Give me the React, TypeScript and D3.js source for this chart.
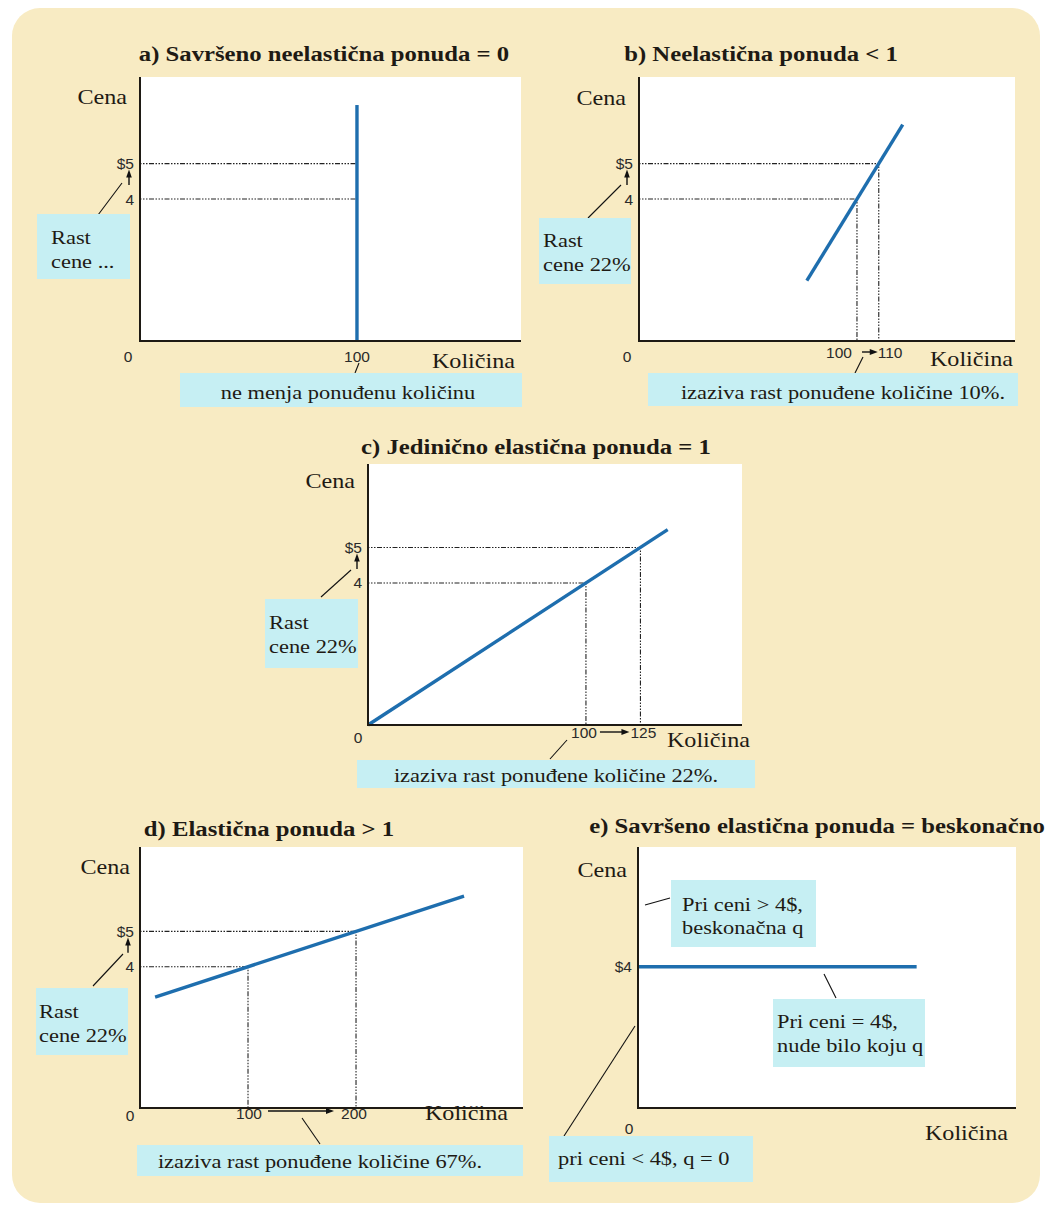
import React from "react";
import * as d3 from "d3";

// ---------- data ----------
const titles = [
  "a) Savršeno neelastična ponuda = 0",
  "b) Neelastična ponuda < 1",
  "c) Jedinično elastična ponuda = 1",
  "d) Elastična ponuda > 1",
  "e) Savršeno elastična ponuda = beskonačno",
];
const yAxisLabel = "Cena";
const xAxisLabel = "Količina";

// supply curves [quantity, price]
const supplyA: [number, number][] = [[100, 0], [100, 6.65]];
const supplyB: [number, number][] = [[77, 1.7], [121, 6.1]];
const supplyC: [number, number][] = [[0, 0], [137.5, 5.5]];
const supplyD: [number, number][] = [[14, 3.14], [300, 6.0]];
const supplyE: [number, number][] = [[0, 4], [129, 4]];

// dotted guide points [quantity, price]
const guidesA: [number, number][] = [[100, 5], [100, 4]];
const guidesB: [number, number][] = [[100, 4], [110, 5]];
const guidesC: [number, number][] = [[100, 4], [125, 5]];
const guidesD: [number, number][] = [[100, 4], [200, 5]];
const guidesE: [number, number][] = [];

// price ticks
const priceLevels = [5, 4];
const priceTickLabels = ["$5", "4"];
const priceLevelsE = [4];
const priceTickLabelsE = ["$4"];

// quantity ticks
const qtyLevelsA = [100];
const qtyLabelsA = ["100"];
const qtyLevelsB = [100, 110];
const qtyLabelsB = ["100", "110"];
const qtyLevelsC = [100, 125];
const qtyLabelsC = ["100", "125"];
const qtyLevelsD = [100, 200];
const qtyLabelsD = ["100", "200"];

// domains
const qDomainMax = [175.6, 172.5, 171.6, 354.6, 175];
const pDomainMax = [7.44, 7.44, 7.35, 7.39, 7.39];

// annotation texts
const noteRise = ["Rast", "cene ..."];
const noteRise22 = ["Rast", "cene 22%"];
const noteA = "ne menja ponuđenu količinu";
const noteB = "izaziva rast ponuđene količine 10%.";
const noteC = "izaziva rast ponuđene količine 22%.";
const noteD = "izaziva rast ponuđene količine 67%.";
const noteE1 = ["Pri ceni > 4$,", "beskonačna q"];
const noteE2 = ["Pri ceni = 4$,", "nude bilo koju q"];
const noteE3 = "pri ceni < 4$, q = 0";

// ---------- style ----------
const CREAM = "#f8ebc3";
const CYAN = "#c6eff3";
const BLUE = "#1e6eae";
const INK = "#1e1a14";
const SERIF = "'Liberation Serif', 'Times New Roman', serif";
const SANS = "'Liberation Sans', Arial, sans-serif";
const DASH = "1.5 1.5 1.5 1.5 1.5 1.5 5 1.5";
const SX = 1.15;

type TP = {
  x: number; y: number; anchor?: "start" | "middle" | "end"; size?: number;
  bold?: boolean; fill?: string; family?: string; sx?: number; children: React.ReactNode;
};
function T({ x, y, anchor = "start", size = 19.5, bold = false, fill = INK, family = SERIF, sx = SX, children }: TP) {
  return (
    <text
      transform={`translate(${x},${y}) scale(${sx},1)`}
      textAnchor={anchor}
      fontFamily={family}
      fontSize={size}
      fontWeight={bold ? "bold" : "normal"}
      fill={fill}
    >
      {children}
    </text>
  );
}

function Tick({ x, y, anchor = "middle", children }: { x: number; y: number; anchor?: "start" | "middle" | "end"; children: React.ReactNode }) {
  return (
    <text x={x} y={y} textAnchor={anchor} dominantBaseline="central" fontFamily={SANS} fontSize={15.5} fill="#2a2a2a">
      {children}
    </text>
  );
}

function Box({ x, y, w, h }: { x: number; y: number; w: number; h: number }) {
  return <rect x={x} y={y} width={w} height={h} fill={CYAN} />;
}

function Leader({ x1, y1, x2, y2 }: { x1: number; y1: number; x2: number; y2: number }) {
  return <line x1={x1} y1={y1} x2={x2} y2={y2} stroke="#111" strokeWidth={1.1} />;
}

function HArrow({ x1, x2, y }: { x1: number; x2: number; y: number }) {
  return (
    <g>
      <line x1={x1} y1={y} x2={x2 - 6} y2={y} stroke="#111" strokeWidth={1.4} />
      <path d={`M${x2},${y} L${x2 - 8},${y - 3} L${x2 - 8},${y + 3} Z`} fill="#111" />
    </g>
  );
}

function VArrow({ x, y1, y2 }: { x: number; y1: number; y2: number }) {
  // y1 bottom, y2 top (head)
  return (
    <g>
      <line x1={x} y1={y1} x2={x} y2={y2 + 5} stroke="#111" strokeWidth={1.4} />
      <path d={`M${x},${y2} L${x - 2.8},${y2 + 8} L${x + 2.8},${y2 + 8} Z`} fill="#111" />
    </g>
  );
}

type PanelCfg = {
  idx: number;
  x0: number; x1: number; y0: number; y1: number;
  supply: [number, number][];
  guides: [number, number][];
  priceLevels: number[]; priceLabels: string[];
  title: { x: number; y: number };
  cena: { x: number; y: number };
  kol: { x: number; y: number };
  zero: { dx: number; dy: number };
  priceArrowX?: number;
  children?: (x: d3.ScaleLinear<number, number>, y: d3.ScaleLinear<number, number>) => React.ReactNode;
};

function Panel(cfg: PanelCfg) {
  const x = d3.scaleLinear().domain([0, qDomainMax[cfg.idx]]).range([cfg.x0, cfg.x1]);
  const y = d3.scaleLinear().domain([0, pDomainMax[cfg.idx]]).range([cfg.y0, cfg.y1]);
  const line = d3.line<[number, number]>().x((d) => x(d[0])).y((d) => y(d[1]));
  return (
    <g>
      <rect x={cfg.x0} y={cfg.y1} width={cfg.x1 - cfg.x0} height={cfg.y0 - cfg.y1} fill="#fff" />
      <T x={(cfg.title.x)} y={cfg.title.y} anchor="middle" size={21.5} bold>
        {titles[cfg.idx]}
      </T>
      {cfg.guides.map(([q, p], i) => (
        <g key={i}>
          <line x1={x(0)} y1={y(p)} x2={x(q)} y2={y(p)} stroke="#222" strokeWidth={1.1} strokeDasharray={DASH} />
          <line x1={x(q)} y1={y(p)} x2={x(q)} y2={y(0)} stroke="#222" strokeWidth={1.1} strokeDasharray={DASH} />
        </g>
      ))}
      <path d={line(cfg.supply) || ""} stroke={BLUE} strokeWidth={3.4} fill="none" />
      <line x1={cfg.x0} y1={cfg.y1} x2={cfg.x0} y2={cfg.y0 + 1} stroke={INK} strokeWidth={2} />
      <line x1={cfg.x0 - 1} y1={cfg.y0} x2={cfg.x1} y2={cfg.y0} stroke={INK} strokeWidth={2} />
      {cfg.priceLevels.map((p, i) => (
        <Tick key={i} x={cfg.x0 - 6} y={y(p)} anchor="end">
          {cfg.priceLabels[i]}
        </Tick>
      ))}
      {cfg.priceArrowX !== undefined && (
        <VArrow x={cfg.priceArrowX} y1={y(4) - 14} y2={y(5) + 6} />
      )}
      <Tick x={cfg.x0 + cfg.zero.dx} y={cfg.y0 + cfg.zero.dy}>0</Tick>
      <T x={cfg.cena.x} y={cfg.cena.y} anchor="end" size={21}>{yAxisLabel}</T>
      <T x={cfg.kol.x} y={cfg.kol.y} anchor="end" size={21}>{xAxisLabel}</T>
      {cfg.children && cfg.children(x, y)}
    </g>
  );
}

function SideNote({ x, y, w, h, lines, tx, b1, b2 }: { x: number; y: number; w: number; h: number; lines: string[]; tx: number; b1: number; b2: number }) {
  return (
    <g>
      <Box x={x} y={y} w={w} h={h} />
      <T x={tx} y={b1}>{lines[0]}</T>
      <T x={tx} y={b2}>{lines[1]}</T>
    </g>
  );
}

export default function App() {
  return (
    <svg width={1057} height={1205} style={{ position: "absolute", left: 0, top: 0, background: "#fff" }}>
      <rect x={12} y={8} width={1028} height={1195} rx={28} ry={28} fill={CREAM} />

      {/* Panel a */}
      <Panel
        idx={0} x0={140} x1={521} y0={341} y1={77}
        supply={supplyA} guides={guidesA}
        priceLevels={priceLevels} priceLabels={priceTickLabels}
        title={{ x: 324, y: 61 }} cena={{ x: 127, y: 104 }} kol={{ x: 515, y: 368 }}
        zero={{ dx: -12, dy: 15 }} priceArrowX={129}
      >
        {(x, y) => (
          <g>
            {qtyLevelsA.map((q, i) => (
              <Tick key={i} x={x(q)} y={y(0) + 15}>{qtyLabelsA[i]}</Tick>
            ))}
            <Leader x1={98} y1={215} x2={122} y2={183} />
            <SideNote x={37} y={214} w={93} h={65} lines={noteRise} tx={51} b1={244} b2={268} />
            <Leader x1={359} y1={363} x2={355} y2={373} />
            <Box x={180} y={373} w={342} h={34} />
            <T x={348} y={399} anchor="middle">{noteA}</T>
          </g>
        )}
      </Panel>

      {/* Panel b */}
      <Panel
        idx={1} x0={639} x1={1015} y0={341} y1={77}
        supply={supplyB} guides={guidesB}
        priceLevels={priceLevels} priceLabels={priceTickLabels}
        title={{ x: 761, y: 61 }} cena={{ x: 626, y: 105 }} kol={{ x: 1013, y: 366 }}
        zero={{ dx: -12, dy: 15 }} priceArrowX={627}
      >
        {(x, y) => (
          <g>
            <Tick x={x(qtyLevelsB[0]) - 5} y={y(0) + 11} anchor="end">{qtyLabelsB[0]}</Tick>
            <Tick x={x(qtyLevelsB[1]) - 1} y={y(0) + 11} anchor="start">{qtyLabelsB[1]}</Tick>
            <HArrow x1={x(qtyLevelsB[0]) + 5} x2={x(qtyLevelsB[1]) - 1} y={y(0) + 11} />
            <Leader x1={588} y1={218} x2={621} y2={185} />
            <SideNote x={539} y={218} w={92} h={66} lines={noteRise22} tx={543} b1={247} b2={271} />
            <Leader x1={863} y1={357} x2={855} y2={373} />
            <Box x={648} y={373} w={370} h={33} />
            <T x={843} y={399} anchor="middle">{noteB}</T>
          </g>
        )}
      </Panel>

      {/* Panel c */}
      <Panel
        idx={2} x0={368} x1={742} y0={725} y1={464}
        supply={supplyC} guides={guidesC}
        priceLevels={priceLevels} priceLabels={priceTickLabels}
        title={{ x: 536, y: 454 }} cena={{ x: 355, y: 488 }} kol={{ x: 750, y: 747 }}
        zero={{ dx: -10, dy: 12 }} priceArrowX={357}
      >
        {(x, y) => (
          <g>
            <Tick x={x(qtyLevelsC[0]) + 11} y={y(0) + 7} anchor="end">{qtyLabelsC[0]}</Tick>
            <Tick x={x(qtyLevelsC[1]) - 10} y={y(0) + 7} anchor="start">{qtyLabelsC[1]}</Tick>
            <HArrow x1={x(qtyLevelsC[0]) + 14} x2={x(qtyLevelsC[1]) - 11} y={y(0) + 7} />
            <Leader x1={321} y1={597} x2={351} y2={570} />
            <SideNote x={265} y={599} w={93} h={69} lines={noteRise22} tx={269} b1={629} b2={653} />
            <Leader x1={567} y1={740} x2={550} y2={759} />
            <Box x={357} y={760} w={398} h={28} />
            <T x={556} y={782} anchor="middle">{noteC}</T>
          </g>
        )}
      </Panel>

      {/* Panel d */}
      <Panel
        idx={3} x0={140} x1={523} y0={1108} y1={847}
        supply={supplyD} guides={guidesD}
        priceLevels={priceLevels} priceLabels={priceTickLabels}
        title={{ x: 269, y: 836 }} cena={{ x: 130, y: 874 }} kol={{ x: 508, y: 1120 }}
        zero={{ dx: -10, dy: 7 }} priceArrowX={128}
      >
        {(x, y) => (
          <g>
            <Tick x={x(qtyLevelsD[0]) + 1} y={y(0) + 5}>{qtyLabelsD[0]}</Tick>
            <Tick x={x(qtyLevelsD[1]) - 2} y={y(0) + 5}>{qtyLabelsD[1]}</Tick>
            <HArrow x1={x(qtyLevelsD[0]) + 20} x2={x(qtyLevelsD[1]) - 22} y={y(0) + 3} />
            <Leader x1={93} y1={986} x2={123} y2={954} />
            <SideNote x={36} y={988} w={92} h={67} lines={noteRise22} tx={39} b1={1018} b2={1042} />
            <Leader x1={302} y1={1118} x2={320} y2={1144} />
            <Box x={137} y={1145} w={386} h={31} />
            <T x={320} y={1168} anchor="middle">{noteD}</T>
          </g>
        )}
      </Panel>

      {/* Panel e */}
      <Panel
        idx={4} x0={638} x1={1016} y0={1108} y1={847}
        supply={supplyE} guides={guidesE}
        priceLevels={priceLevelsE} priceLabels={priceTickLabelsE}
        title={{ x: 817, y: 833 }} cena={{ x: 627, y: 877 }} kol={{ x: 1008, y: 1140 }}
        zero={{ dx: -9, dy: 20 }}
      >
        {() => (
          <g>
            <Leader x1={645} y1={905} x2={670} y2={898} />
            <SideNote x={671} y={880} w={145} h={67} lines={noteE1} tx={682} b1={911} b2={934} />
            <Leader x1={824} y1={974} x2={836} y2={998} />
            <SideNote x={773} y={999} w={152} h={68} lines={noteE2} tx={777} b1={1028} b2={1052} />
            <Leader x1={564} y1={1136} x2={635} y2={1026} />
            <Box x={549} y={1136} w={204} h={46} />
            <T x={558} y={1165}>{noteE3}</T>
          </g>
        )}
      </Panel>
    </svg>
  );
}
